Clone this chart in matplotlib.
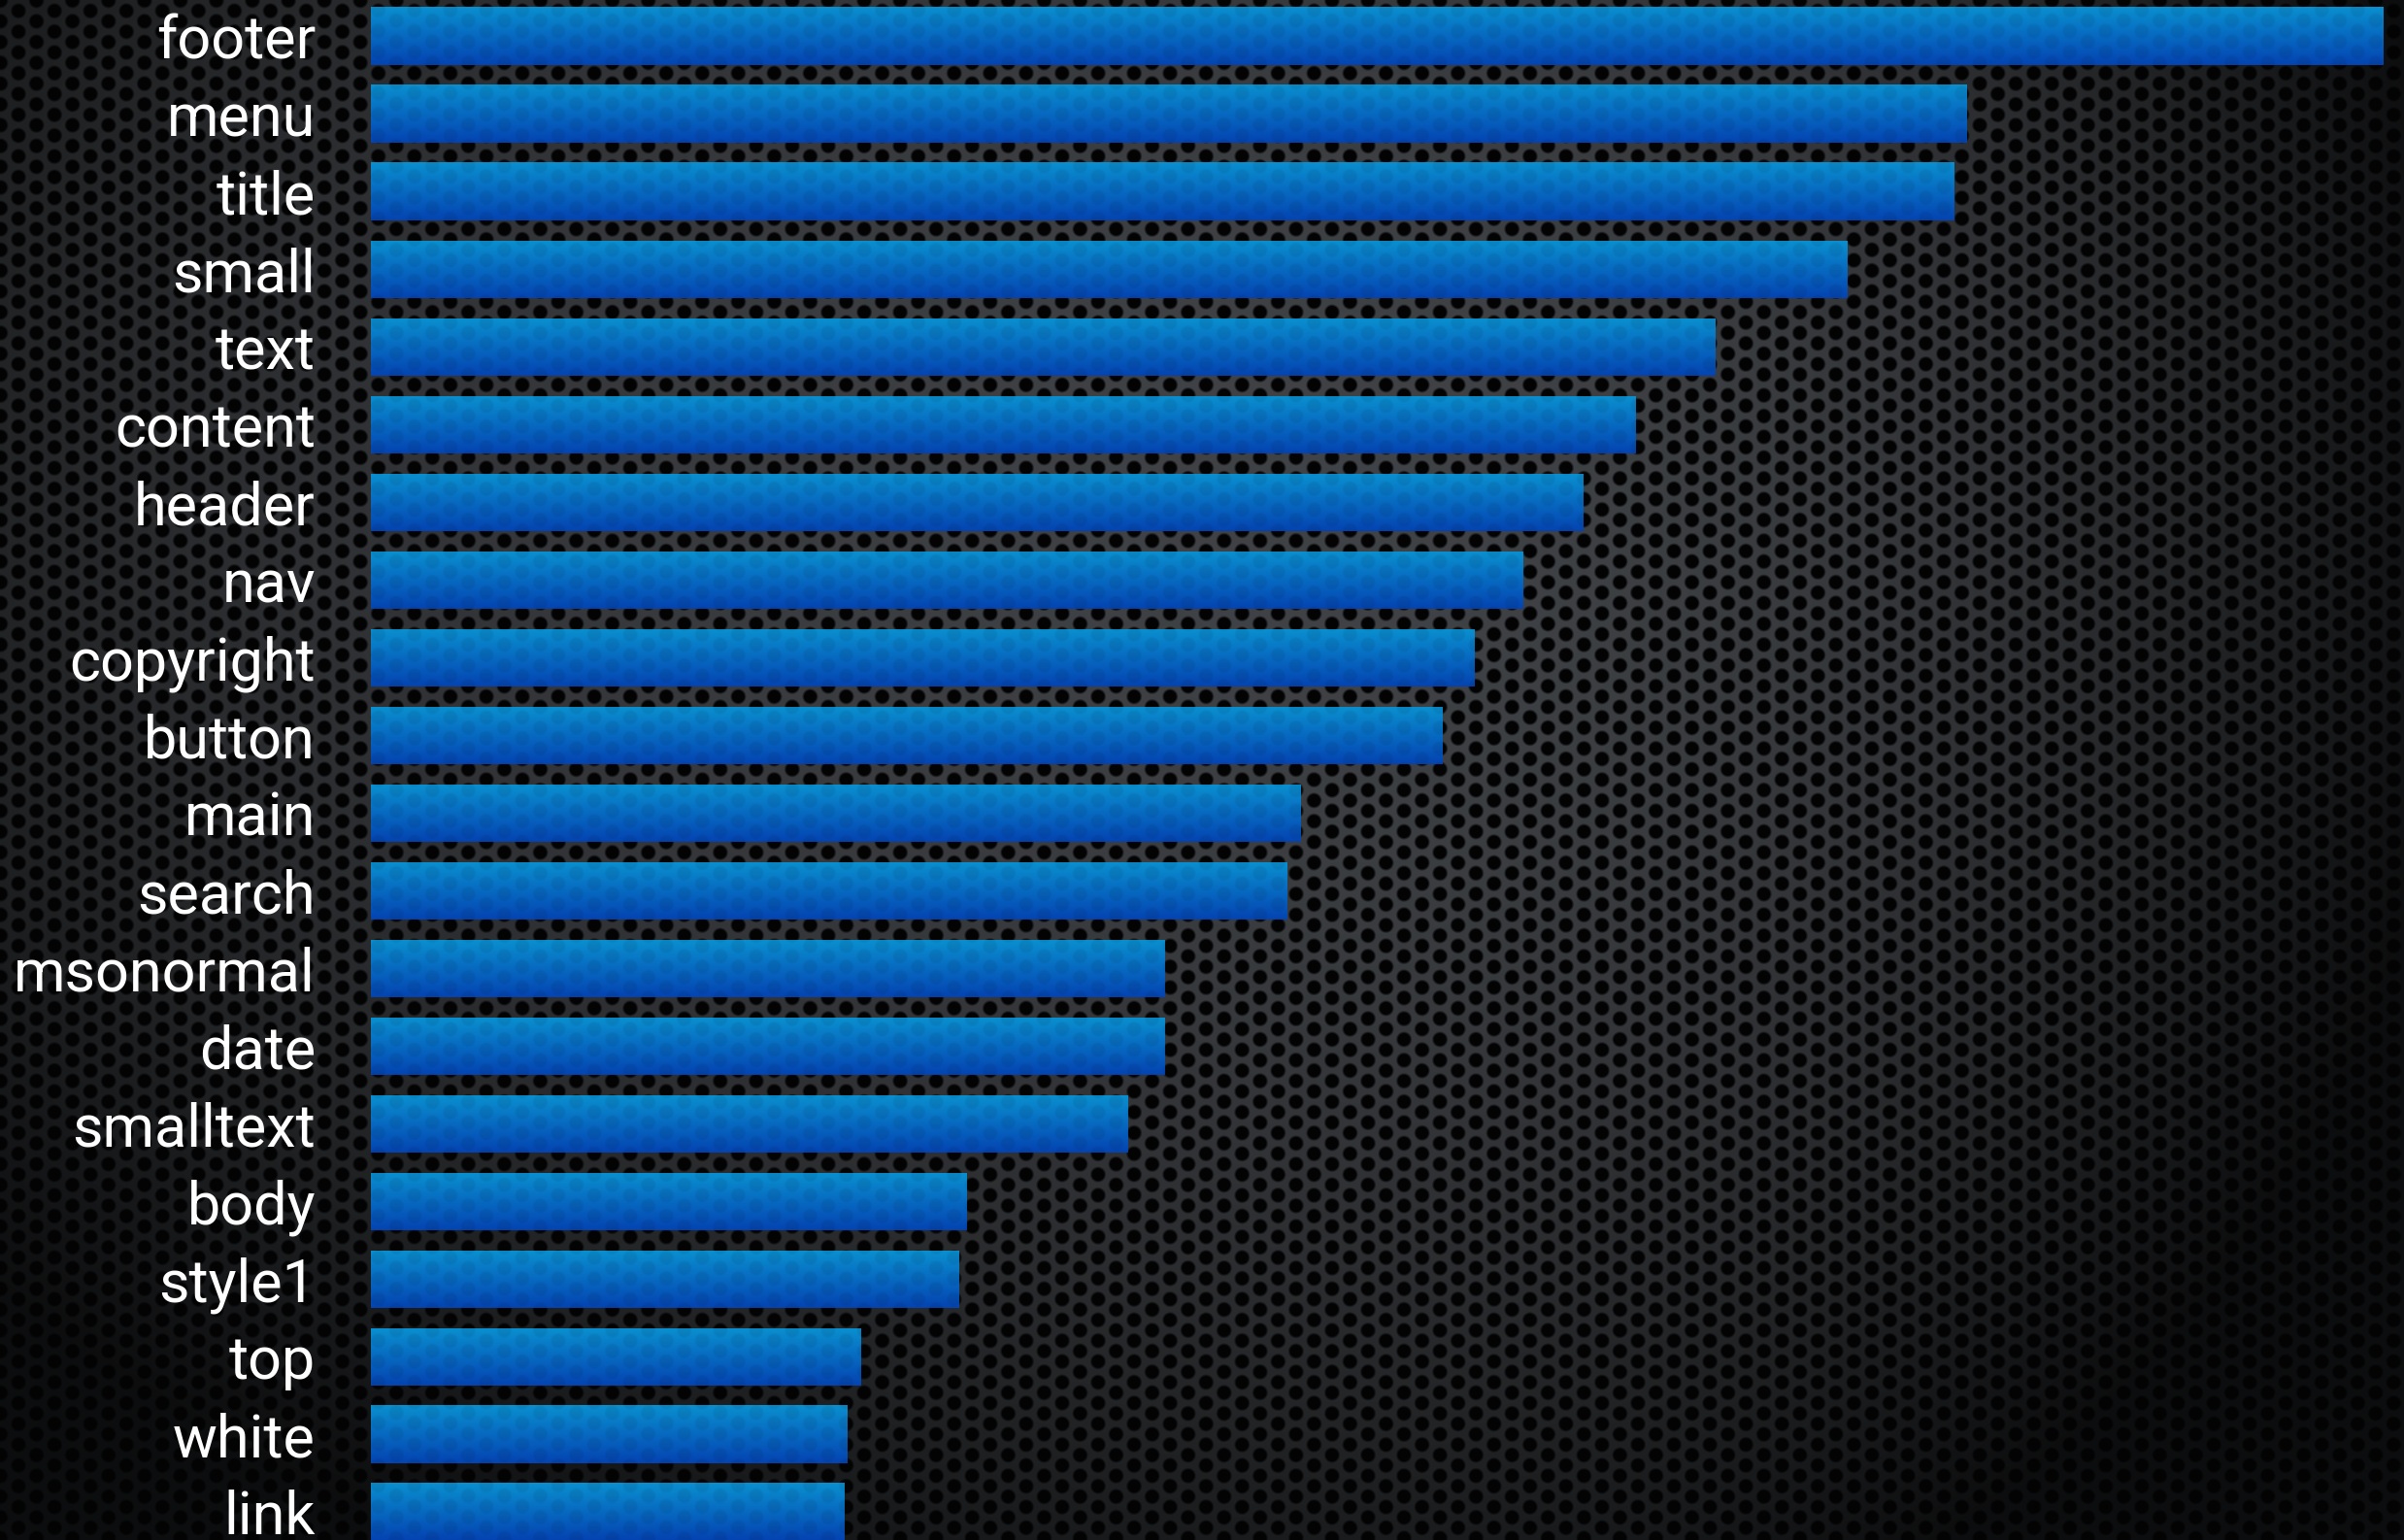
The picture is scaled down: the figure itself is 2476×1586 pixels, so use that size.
import numpy as np
import matplotlib.pyplot as plt

W, H, DPI = 2476, 1586, 100

labels = ["footer", "menu", "title", "small", "text", "content", "header", "nav",
          "copyright", "button", "main", "search", "msonormal", "date", "smalltext",
          "body", "style1", "top", "white", "link"]
counts = [2073, 1644, 1631, 1521, 1385, 1303, 1249, 1187, 1137, 1104,
          958, 944, 818, 818, 780, 614, 606, 505, 491, 488]

# perforated metal texture (pixel grid of the whole figure)
yy, xx = np.mgrid[0:H, 0:W].astype(float)
a = 21.4
cw = a * np.sqrt(3)
dx1 = (xx % cw) - cw / 2
dy1 = (yy % a) - a / 2
dx2 = ((xx + cw / 2) % cw) - cw / 2
dy2 = ((yy + a / 2) % a) - a / 2
d = np.minimum(np.hypot(dx1, dy1), np.hypot(dx2, dy2))
mesh = np.clip((d - 6.0) / 2.5, 0, 1)

# uneven lighting
cx, cy = 1400.0, 500.0
sx = np.where(xx < cx, 1600.0, 1000.0)
r2 = ((xx - cx) / sx) ** 2 + ((yy - cy) / 1100.0) ** 2
light = np.clip(0.25 - 0.15 * r2, 0.05, None)

bg = np.empty((H, W, 3))
hole = np.array([0.012, 0.014, 0.018])
for c, k in enumerate([1.0, 1.04, 1.10]):
    bg[..., c] = hole[c] * (1 - mesh) + light * k * mesh

fig = plt.figure(figsize=(W / DPI, H / DPI), dpi=DPI)
bgax = fig.add_axes([0, 0, 1, 1])
bgax.imshow(bg, extent=[0, W, H, 0], aspect="auto", interpolation="bilinear")
bgax.set_axis_off()

left_px = 382
ax = fig.add_axes([left_px / W, 0, 1 - left_px / W, 1])
ax.patch.set_alpha(0)
y = np.arange(len(labels))
bars = ax.barh(y, counts, height=0.74, color="#0868c4", linewidth=0)
ax.set_xlim(0, W - left_px)
ax.set_ylim((H - 37.5) / 80.0, -37.5 / 80.0)
ax.set_yticks(y)
ax.set_yticklabels(labels, fontsize=44, color="white", family="Roboto", fontweight="normal")
ax.tick_params(axis="y", length=0, pad=41)
ax.set_xticks([])
for s in ax.spines.values():
    s.set_visible(False)

# blue gradient with the texture showing through
top = np.array([10, 143, 207]) / 255.0
bot = np.array([4, 68, 178]) / 255.0
fig.canvas.draw()
for b in bars:
    x0, y0 = b.get_x(), b.get_y()
    x1, y1 = x0 + b.get_width(), y0 + b.get_height()
    p0 = ax.transData.transform((x0, y0))
    p1 = ax.transData.transform((x1, y1))
    c0, c1 = int(round(p0[0])), int(round(p1[0]))
    r0, r1 = int(round(H - p0[1])), int(round(H - p1[1]))
    r0, r1 = min(r0, r1), max(r0, r1)
    r0, r1 = max(r0, 0), min(r1, H)
    sub = mesh[r0:r1, c0:c1]
    t = np.linspace(0, 1, r1 - r0)[:, None, None]
    grad = top * (1 - t) + bot * t
    img = grad * (1 - 0.07 * (1 - sub[..., None]))
    ext_y0 = ax.transData.inverted().transform((0, H - r1))[1]
    ext_y1 = ax.transData.inverted().transform((0, H - r0))[1]
    ax.imshow(np.clip(img, 0, 1), extent=[x0, x1, ext_y0, ext_y1], aspect="auto",
              interpolation="bilinear", zorder=3)

ax.set_xlim(0, W - left_px)
ax.set_ylim((H - 37.5) / 80.0, -37.5 / 80.0)

fig.savefig("out.png", dpi=DPI)
